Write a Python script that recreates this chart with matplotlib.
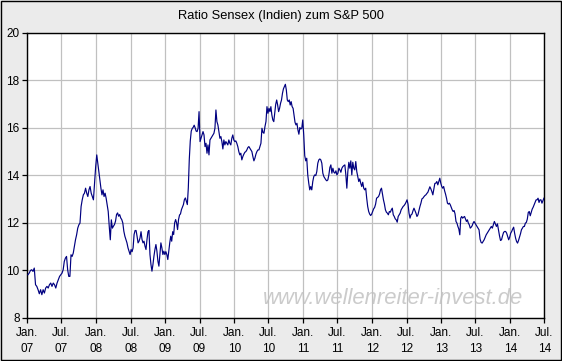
#!/usr/bin/env python3
"""Ratio Sensex (Indien) zum S&P 500, weekly closes Jan 2007 - Jul 2014."""
from datetime import datetime

import numpy as np
import matplotlib
matplotlib.use("Agg")
import matplotlib.pyplot as plt
import matplotlib.dates as mdates
from matplotlib.patches import Rectangle

# values, one list per half-year
h07a = [9.82, 9.89, 10.0, 10.03, 9.96, 10.1, 9.4, 9.33, 9.19, 9.02, 9.19, 8.98, 9.19, 9.05,
        9.26, 9.33, 9.26, 9.4, 9.47, 9.33, 9.47, 9.4, 9.26, 9.47, 9.61, 9.75, 9.82]
h07b = [9.89, 10.03, 10.38, 10.52, 10.59, 10.03, 9.75, 9.75, 10.66, 10.59, 10.73, 11.01, 11.29,
        11.5, 11.78, 11.92, 11.99, 12.69, 12.97, 13.18, 13.25, 13.46, 13.25, 13.11, 13.39, 13.53,
        13.25, 13.11, 12.97, 13.67, 14.37]
h08a = [14.86, 14.51, 14.16, 13.81, 13.46, 13.18, 13.39, 13.11, 13.25, 13.04, 12.76, 12.48,
        11.85, 11.29, 12.13, 11.78, 11.86, 11.93, 12.07, 12.35, 12.42, 12.28, 12.35, 12.21,
        12.14, 12.0, 11.65, 11.44, 11.3, 11.16, 10.95, 10.81, 10.67]
h08b = [10.88, 10.79, 10.95, 11.51, 11.68, 11.68, 11.44, 11.16, 11.23, 11.37, 11.63, 11.3,
        11.16, 11.23, 11.02, 10.88, 11.3, 11.63, 11.68, 10.67, 10.25, 9.97, 10.25, 10.6, 10.88,
        11.09, 10.81, 10.39, 10.18, 10.67, 11.16, 10.95, 10.67, 10.81, 10.67]
h09a = [10.79, 10.67, 10.46, 10.81, 11.16, 11.44, 11.23, 11.63, 11.51, 12.0, 12.14, 12.0,
        11.72, 12.14, 12.33, 12.38, 12.56, 12.66, 12.77, 12.98, 13.05, 12.91, 12.77, 13.47,
        14.67, 15.44, 15.86, 15.97, 16.02, 16.11, 16.0, 15.86, 15.84, 15.98, 16.68]
h09b = [15.42, 15.56, 15.7, 15.84, 15.7, 15.21, 15.35, 14.93, 15.28, 14.86, 15.49, 15.56,
        15.63, 15.7, 15.77, 15.98, 16.75, 16.26, 16.12, 15.84, 15.56, 15.63, 15.42, 15.11,
        15.49, 15.28, 15.42, 15.35, 15.28, 15.49, 15.35, 15.28, 15.56, 15.7, 15.49]
h10a = [15.42, 15.45, 15.35, 15.21, 15.0, 14.86, 14.93, 14.65, 14.79, 14.89, 14.97, 15.0,
        15.07, 15.17, 15.21, 15.14, 15.07, 15.0, 14.79, 14.61, 14.72, 14.89, 15.0, 15.07,
        15.07, 15.21, 15.35, 15.98, 15.81, 15.77, 16.05, 16.26, 16.89, 16.61]
h10b = [16.82, 16.68, 16.89, 16.54, 16.33, 16.26, 16.61, 16.99, 17.17, 16.96, 16.68, 16.82,
        17.03, 17.17, 17.45, 17.64, 17.73, 17.83, 17.59, 17.17, 17.1, 17.17, 16.96, 17.1,
        16.89, 16.82, 16.54, 16.23, 16.12, 16.19, 15.91, 15.73, 16.01, 15.95, 15.98, 16.33]
h11a = [15.7, 14.83, 14.61, 14.72, 14.02, 13.67, 13.39, 13.53, 13.39, 13.74, 13.95, 14.02,
        13.99, 14.16, 14.51, 14.65, 14.69, 14.65, 14.51, 14.09, 13.95, 13.88, 13.81, 13.77,
        13.81, 14.02, 14.33, 14.44, 14.09, 14.3, 14.13, 14.09, 14.19, 14.02]
h11b = [14.09, 14.3, 14.23, 14.13, 14.3, 14.37, 14.41, 14.44, 14.02, 13.46, 14.16, 14.55,
        14.3, 14.61, 14.02, 14.55, 14.3, 14.23, 14.58, 14.16, 13.95, 13.74, 13.85, 13.67,
        13.53, 13.71, 13.46, 13.39, 13.46, 13.04, 12.69, 12.48, 12.37, 12.31, 12.37]
h12a = [12.48, 12.59, 12.65, 12.79, 13.04, 13.07, 13.11, 13.21, 13.39, 13.46, 13.21, 12.97,
        12.79, 12.55, 12.45, 12.41, 12.34, 12.48, 12.45, 12.55, 12.62, 12.34, 12.27, 12.17,
        12.13, 12.03, 12.27, 12.34, 12.41, 12.55, 12.62, 12.69, 12.73, 12.79, 12.87]
h12b = [12.97, 12.79, 12.41, 12.2, 12.34, 12.37, 12.51, 12.62, 12.51, 12.41, 12.27, 12.34,
        12.51, 12.69, 12.83, 13.01, 13.04, 13.1, 13.15, 13.18, 13.24, 13.29, 13.4, 13.52,
        13.43, 13.32, 13.18, 13.43, 13.66, 13.67, 13.74, 13.6, 13.74, 13.88, 13.67]
h13a = [13.53, 13.46, 13.53, 13.35, 13.21, 13.04, 12.83, 12.79, 12.83, 12.76, 12.66, 12.55,
        12.48, 12.52, 12.38, 12.06, 11.99, 11.85, 11.74, 11.5, 12.2, 12.27, 12.2, 12.24, 12.27,
        12.16, 12.06, 12.13, 11.99, 11.92, 11.78, 11.82, 11.88, 11.99, 12.06, 11.99]
h13b = [11.92, 11.85, 11.78, 11.71, 11.32, 11.18, 11.15, 11.22, 11.29, 11.4, 11.5, 11.57,
        11.64, 11.71, 11.78, 11.85, 11.78, 11.92, 12.06, 11.96, 11.85, 11.96, 11.71, 11.46,
        11.26, 11.29, 11.46, 11.6, 11.64, 11.64, 11.57, 11.43, 11.29, 11.4]
h14a = [11.57, 11.64, 11.74, 11.82, 11.57, 11.36, 11.22, 11.15, 11.26, 11.4, 11.54, 11.71,
        11.78, 11.85, 11.85, 11.99, 12.02, 12.16, 12.44, 12.48, 12.3, 12.44, 12.58, 12.66,
        12.76, 12.86, 12.97, 12.97, 13.04, 12.86, 12.97, 12.97, 12.83, 12.94, 13.04]

halves = [h07a, h07b, h08a, h08b, h09a, h09b, h10a, h10b, h11a, h11b, h12a, h12b, h13a, h13b, h14a]
tick_labels = ["Jan.\n07", "Jul.\n07", "Jan.\n08", "Jul.\n08", "Jan.\n09", "Jul.\n09",
               "Jan.\n10", "Jul.\n10", "Jan.\n11", "Jul.\n11", "Jan.\n12", "Jul.\n12",
               "Jan.\n13", "Jul.\n13", "Jan.\n14", "Jul.\n14"]
title = "Ratio Sensex (Indien) zum S&P 500"
watermark = "www.wellenreiter-invest.de"

# half-year boundaries as matplotlib date numbers
bounds = [mdates.date2num(datetime(2007 + k // 2, 1 + 6 * (k % 2), 1)) for k in range(16)]

xs, ys = [], []
for k, vals in enumerate(halves):
    n = len(vals)
    d0, d1 = bounds[k], bounds[k + 1]
    xs.extend(d0 + (d1 - d0) * (np.arange(n) + 0.5) / n)
    ys.extend(vals)

plt.rcParams["font.family"] = ["Liberation Sans", "DejaVu Sans"]

fig = plt.figure(figsize=(5.62, 3.61), dpi=100, facecolor="#ebebeb")
ax = fig.add_axes([27.3 / 562, 1 - 318 / 361, (544.4 - 27.3) / 562, (318 - 32.7) / 361])
ax.set_facecolor("white")

ax.plot(xs, ys, color="#000080", lw=0.85, zorder=3)

ax.set_xlim(bounds[0], bounds[-1])
ax.set_ylim(8, 20)
ax.set_yticks(range(8, 21, 2))
ax.set_xticks(bounds)
ax.set_xticklabels(tick_labels, linespacing=1.45)

ax.set_axisbelow(True)
ax.grid(True, color="#c0c0c0", lw=0.9)
for s in ax.spines.values():
    s.set_color("black")
    s.set_linewidth(1.0)
ax.tick_params(axis="both", direction="out", length=3.5, width=0.9, colors="black",
               labelsize=8.5)
ax.tick_params(axis="y", pad=2)
ax.tick_params(axis="x", pad=3)

ax.text(0.707, 0.05, watermark, transform=ax.transAxes, ha="center", va="baseline",
        fontsize=15.8, style="italic", color="#cbcbcb", zorder=0.2)

fig.text(0.5, 1 - 16 / 361, title, ha="center", va="center", fontsize=9.3)

fig.patches.append(Rectangle((0.5 / 562, 1.5 / 361), 560 / 562, 359 / 361,
                             transform=fig.transFigure, fill=False, edgecolor="black", lw=1.0))

fig.savefig("out.png", dpi=100, facecolor=fig.get_facecolor())
